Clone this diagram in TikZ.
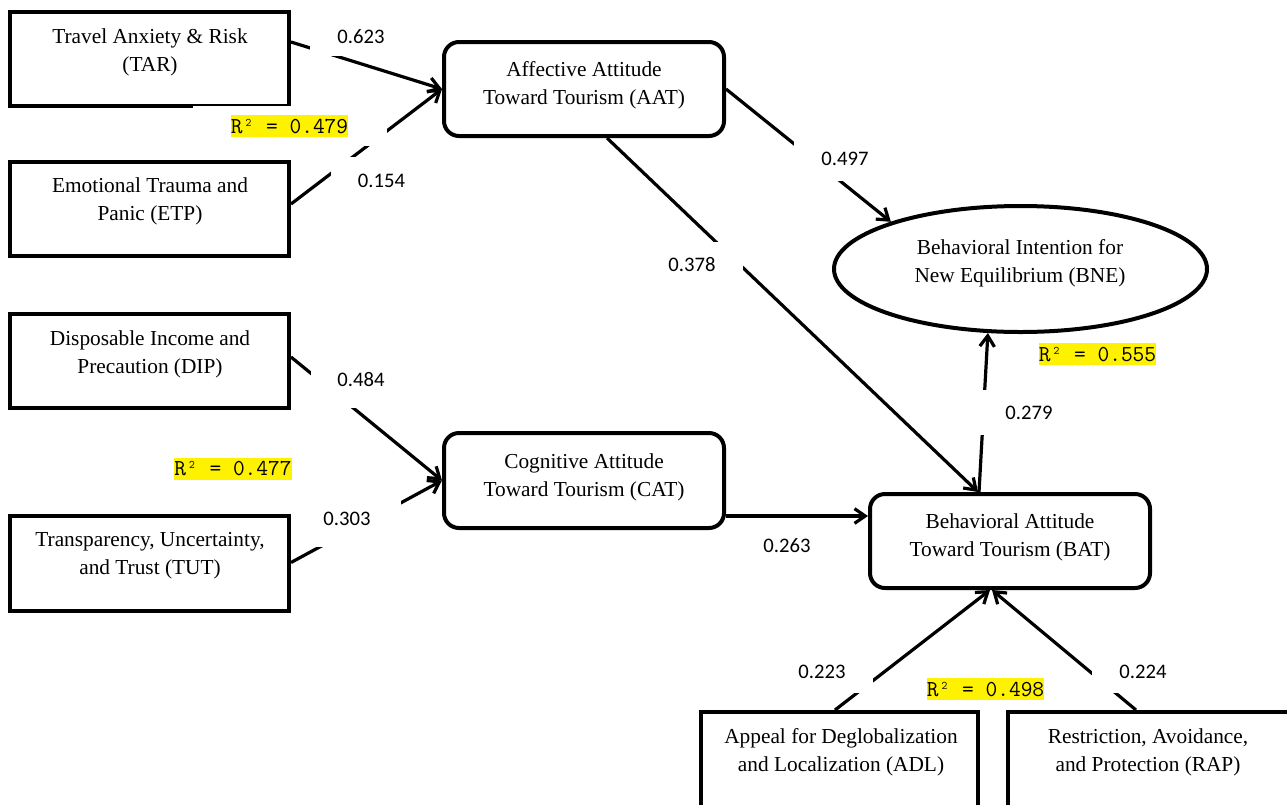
\documentclass[tikz,border=0pt]{standalone}
\usepackage{fontspec}
\setmainfont{Liberation Serif}
\newfontfamily\numfont{Carlito}
\newfontfamily\rsqfont{Latin Modern Mono}
\usetikzlibrary{arrows.meta,calc,shapes.geometric}
\newdimen\px \px=0.75pt
\newcommand\rsqlabel[1]{{\setlength{\fboxsep}{0pt}\colorbox{yellow}{\rsqfont\fontsize{17.1}{17}\selectfont\rule[-4\px]{0pt}{22\px}R² = #1}}}
\tikzset{
 box/.style={draw, line width=4\px, minimum width=279\px, minimum height=94\px, inner sep=0pt},
 rbox/.style={box, rounded corners=15\px, minimum width=280\px},
 txt/.style={font=\fontsize{16}{21}\selectfont, align=center, inner sep=0pt},
 conn/.style={line width=3.2\px, -{Straight Barb[length=8pt,width=11pt]}},
 coef/.style={fill=white, font=\numfont\fontsize{15.5}{18}\selectfont, minimum width=102\px, minimum height=44\px, inner sep=0pt},
 rsq/.style={fill=white, minimum width=194\px, minimum height=40\px, inner sep=0pt},
}
\begin{document}
\begin{tikzpicture}[x=0.75pt,y=-0.75pt]
\useasboundingbox (0,0) rectangle (1287,804);
\clip (0,0) rectangle (1287,804);
% boxes
\node[box] (TAR) at (149.5,59) {};
\node[txt] (TARt) at (150,52) {Travel Anxiety \& Risk\\(TAR)};
\node[box] (ETP) at (149.5,209) {};
\node[txt] (ETPt) at (150,201.5) {Emotional Trauma and\\Panic (ETP)};
\node[box] (DIP) at (149.5,361) {};
\node[txt] (DIPt) at (150,354) {Disposable Income and\\Precaution (DIP)};
\node[box, minimum height=95\px] (TUT) at (149.5,563.5) {};
\node[txt] (TUTt) at (150,556) {Transparency, Uncertainty,\\and Trust (TUT)};
\node[rbox] (AAT) at (584,89) {};
\node[txt] (AATt) at (584,85.5) {Affective Attitude\\Toward Tourism (AAT)};
\node[rbox, minimum height=95\px] (CAT) at (584,480.5) {};
\node[txt] (CATt) at (584,477.5) {Cognitive Attitude\\Toward Tourism (CAT)};
\node[rbox] (BAT) at (1010,541) {};
\node[txt] (BATt) at (1010,537.5) {Behavioral Attitude\\Toward Tourism (BAT)};
\node[draw, ellipse, line width=4\px, minimum width=373\px, minimum height=126\px, inner sep=0pt] (BNE) at (1020.5,269) {};
\node[txt] (BNEt) at (1020,263.5) {Behavioral Intention for\\New Equilibrium (BNE)};
\node[box, minimum width=277\px, minimum height=130\px] (ADL) at (839.5,777) {};
\node[txt] (ADLt) at (841,752) {Appeal for Deglobalization\\and Localization (ADL)};
\node[box, minimum width=282\px, minimum height=130\px] (RAP) at (1149,777) {};
\node[txt] (RAPt) at (1148,752) {Restriction, Avoidance,\\and Protection (RAP)};
% connectors
\draw[conn] ($(TAR.east)+(0,-17)$) -- (AAT.west);
\draw[conn] ($(ETP.east)+(0,-5)$) -- (AAT.west);
\draw[conn] ($(DIP.east)+(0,-4)$) -- (CAT.west);
\draw[conn] ($(TUT.east)+(0,-1)$) -- (CAT.west);
\draw[conn] ($(CAT.east)+(0,35.5)$) coordinate (cb) -- (cb -| BAT.west);
\draw[conn] ($(AAT.south)+(23,0)$) -- ($(BAT.north)+(-32,0)$);
\draw[conn] (AAT.east) -- (BNE.160.6);
\draw[conn] ($(BAT.north)+(-31,0)$) -- (BNE.243);
\draw[conn] ($(ADL.north)+(-4.5,0)$) -- ($(BAT.south)+(-20,0)$);
\draw[conn] ($(RAP.north)+(-13,0)$) -- ($(BAT.south)+(-18,0)$);
% coefficient labels
\node[coef, minimum height=38\px] (l623) at (361,37) {0.623};
\node[coef, minimum width=101\px, minimum height=48\px] (l154) at (381.5,181) {0.154};
\node[coef, minimum width=100\px, minimum height=56\px] (l484) at (361,380) {0.484};
\node[coef, minimum width=108\px, minimum height=57\px] (l303) at (347,518.5) {0.303};
\node[coef, minimum height=46\px] (l378) at (692,265) {0.378};
\node[coef] (l497) at (845,159) {0.497};
\node[coef, minimum width=100\px, minimum height=45\px] (l279) at (1029,412.5) {0.279};
\node[coef] (l263) at (787,545.5) {0.263};
\node[coef, minimum height=42\px] (l223) at (822,672) {0.223};
\node[coef, minimum height=42\px] (l224) at (1143,672) {0.224};
% R squared labels
\node[rsq] (r479) at (289.5,126) {\rsqlabel{0.479}};
\node[rsq] (r477) at (233,468.5) {\rsqlabel{0.477}};
\node[rsq, minimum height=36\px] (r555) at (1097.5,354) {\rsqlabel{0.555}};
\node[rsq, minimum width=180\px, minimum height=36\px] (r498) at (985.5,689) {\rsqlabel{0.498}};
\end{tikzpicture}
\end{document}
